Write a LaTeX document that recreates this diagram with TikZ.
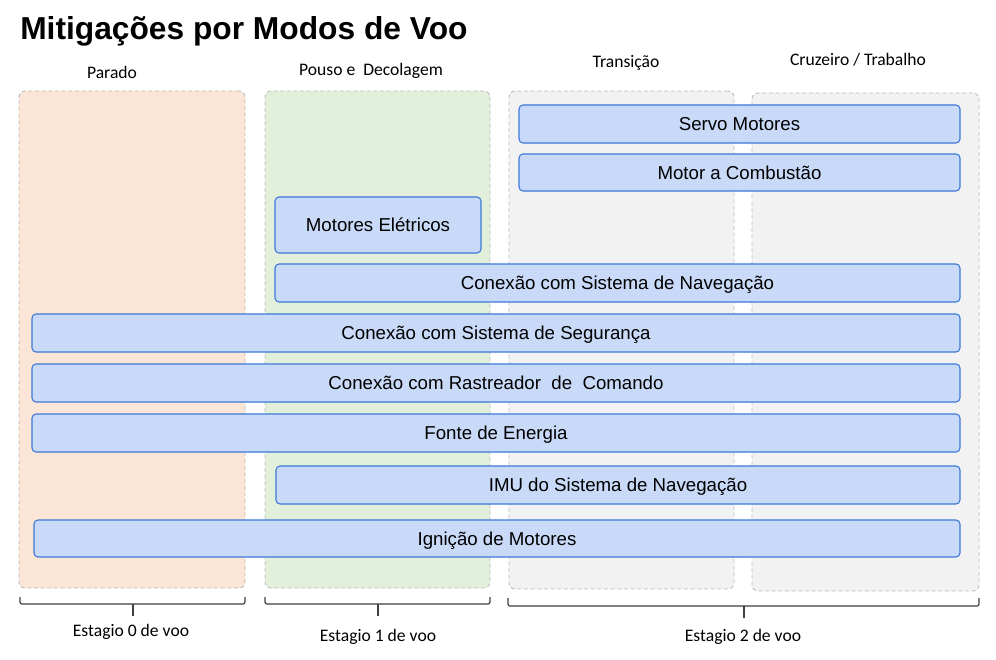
\documentclass[tikz,border=0pt]{standalone}
\usepackage{fontspec}
\setmainfont{Liberation Sans}
\newfontfamily\carlitofont{Carlito}
\usetikzlibrary{fit}
\definecolor{peach}{HTML}{FBE5D6}
\definecolor{lgreen}{HTML}{E2EFDA}
\definecolor{lgray}{HTML}{F2F2F2}
\definecolor{dashc}{HTML}{BDBDBD}
\definecolor{barfill}{HTML}{C9DAF8}
\definecolor{barline}{HTML}{3C78D8}
\definecolor{brk}{HTML}{404040}
\tikzset{
  col/.style={draw=dashc, dashed, dash pattern=on 3pt off 2pt, line width=0.7pt, rounded corners=4.5pt, inner sep=0pt},
  bar/.style={draw=barline, fill=barfill, line width=0.8pt, rounded corners=3pt, inner sep=0pt},
  barlab/.style={font=\fontsize{14}{16}\selectfont, text=black, inner sep=0pt, text height=10pt, text depth=0pt},
  lab/.style={font=\carlitofont\fontsize{13.2}{15}\selectfont, anchor=base, inner sep=0pt},
  brace/.style={draw=brk, line width=0.9pt, rounded corners=1.5pt},
}
\begin{document}
\begin{tikzpicture}[x=0.75pt,y=-0.75pt]
\useasboundingbox[fill=white] (0,0) rectangle (996,660);
\node[anchor=base west, inner sep=0pt, font=\bfseries\fontsize{23.8}{28}\selectfont] (title) at (20,40) {Mitigações por Modos de Voo};
% columns
\node[col, fill=peach, fit={(19,91) (245,588)}] (c0) {};
\node[col, fill=lgreen, fit={(265,91) (490,588)}] (c1) {};
\node[col, fill=lgray, fit={(509,91) (734,589)}] (c2) {};
\node[col, fill=lgray, fit={(752,93) (979,591)}] (c3) {};
% column labels
\node[lab] (l0) at (112,79) {Parado};
\node[lab] (l1) at (371,76) {Pouso e\ \ Decolagem};
\node[lab] (l2) at (626,68) {Transição};
\node[lab] (l3) at (858,65) {Cruzeiro / Trabalho};
% bars
\node[bar, fit={(519,105) (960,143)}, label={[barlab]center:Servo Motores}] (b1) {};
\node[bar, fit={(519,154) (960,191)}, label={[barlab]center:Motor a Combustão}] (b2) {};
\node[bar, fit={(275,197) (481,253)}, label={[barlab]center:Motores Elétricos}] (b3) {};
\node[bar, fit={(275,264) (960,302)}, label={[barlab]center:Conexão com Sistema de Navegação}] (b4) {};
\node[bar, fit={(32,314) (960,352)}, label={[barlab]center:Conexão com Sistema de Segurança}] (b5) {};
\node[bar, fit={(32,364) (960,402)}, label={[barlab]center:Conexão com Rastreador\ \ de\ \ Comando}] (b6) {};
\node[bar, fit={(32,414) (960,452)}, label={[barlab]center:Fonte de Energia}] (b7) {};
\node[bar, fit={(276,466) (960,504)}, label={[barlab]center:IMU do Sistema de Navegação}] (b8) {};
\node[bar, fit={(34,520) (960,557)}, label={[barlab]center:Ignição de Motores}] (b9) {};
% brackets
\draw[brace] (20,597) -- (20,604) -- (245,604) -- (245,597);
\draw[brace] (133,604) -- (133,616);
\draw[brace] (265,597) -- (265,604) -- (490,604) -- (490,597);
\draw[brace] (378,604) -- (378,616);
\draw[brace] (508,598) -- (508,606) -- (979,606) -- (979,598);
\draw[brace] (744,606) -- (744,618);
% stage labels
\node[lab] (s0) at (131,636) {Estagio 0 de voo};
\node[lab] (s1) at (378,641) {Estagio 1 de voo};
\node[lab] (s2) at (743,641) {Estagio 2 de voo};
\end{tikzpicture}
\end{document}
